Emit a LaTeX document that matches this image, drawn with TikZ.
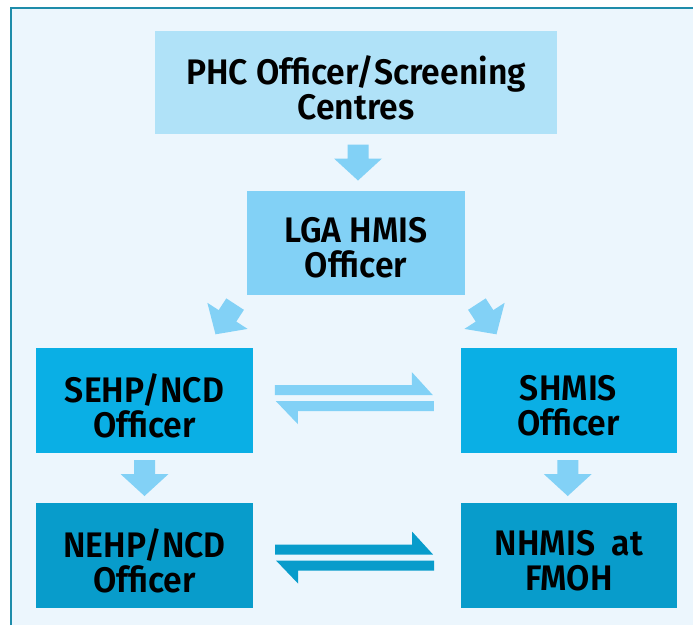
\documentclass[tikz,border=0pt]{standalone}
\usepackage{fontspec}
\setmainfont{Fira Sans}[BoldFont={Fira Sans SemiBold}, BoldFeatures={FakeStretch=0.95}]
\usetikzlibrary{calc}
\definecolor{bgc}{HTML}{ECF6FD}
\definecolor{framec}{HTML}{1E8CAA}
\definecolor{cone}{HTML}{B0E2F8}
\definecolor{ctwo}{HTML}{82D1F6}
\definecolor{cthree}{HTML}{0AAFE5}
\definecolor{cfour}{HTML}{089CCB}
\tikzset{
  box/.style={inner sep=0pt},
  txt/.style={inner sep=0pt, align=center, text=black, yshift=-5pt,
    font=\bfseries\fontsize{35.5}{35}\selectfont},
  downarrow/.pic={
    \fill (-10.5,-18) -- (10.5,-18) -- (10.5,-4) -- (24,-4) -- (0,18) -- (-24,-4) -- (-10.5,-4) -- cycle;
  },
  harpoons/.pic={
    \fill (-79.5,-13) -- (57.5,-13) -- (57.5,-26) -- (78.5,-3) -- (-79.5,-3) -- cycle;
    \fill (79.5,3) -- (79.5,13) -- (-56.5,13) -- (-56.5,26) -- (-78.5,3) -- cycle;
  }
}
\begin{document}
\begin{tikzpicture}[x=1pt,y=-1pt]
\useasboundingbox (0,0) rectangle (693,625);
\fill[white] (0,0) rectangle (693,625);
\fill[bgc] (11,8) rectangle (693,625);
\draw[framec, line width=1.5pt] (11,625) -- (11,8) -- (693,8);

\node[box, fill=cone, minimum width=402pt, minimum height=103pt,
  label={[txt]center:PHC Officer/Screening\\Centres}] (phc) at (356,82.5) {};
\node[box, fill=ctwo, minimum width=218pt, minimum height=104pt,
  label={[txt]center:LGA HMIS\\Officer}] (lga) at (356,243) {};
\node[box, fill=cthree, minimum width=217pt, minimum height=105pt,
  label={[txt]center:SEHP/NCD\\Officer}] (sehp) at (144.5,400.5) {};
\node[box, fill=cthree, minimum width=216pt, minimum height=105pt,
  label={[txt]center:SHMIS\\Officer}] (shmis) at (568.5,400.5) {};
\node[box, fill=cfour, minimum width=217pt, minimum height=105pt,
  label={[txt]center:NEHP/NCD\\Officer}] (nehp) at (144.5,555.5) {};
\node[box, fill=cfour, minimum width=216pt, minimum height=105pt,
  label={[txt]center:NHMIS~ at\\FMOH}] (nhmis) at (569,555.5) {};

\pic[ctwo] at ($(phc.south)!0.5!(lga.north)+(2,0)$) {downarrow};
\pic[ctwo, rotate=-33] at ($(lga.south west)+(-21.5,24)$) {downarrow};
\pic[ctwo, rotate=33] at ($(lga.south east)+(21.5,24)$) {downarrow};
\pic[ctwo] at ($(sehp.south)!0.5!(nehp.north)$) {downarrow};
\pic[ctwo] at ($(shmis.south)!0.5!(nhmis.north)+(-1,0)$) {downarrow};
\pic[ctwo] at ($(sehp.east)!0.5!(shmis.west)+(-2.5,-2.5)$) {harpoons};
\pic[cfour] at ($(nehp.east)!0.5!(nhmis.west)+(-2.5,2)$) {harpoons};
\end{tikzpicture}
\end{document}
